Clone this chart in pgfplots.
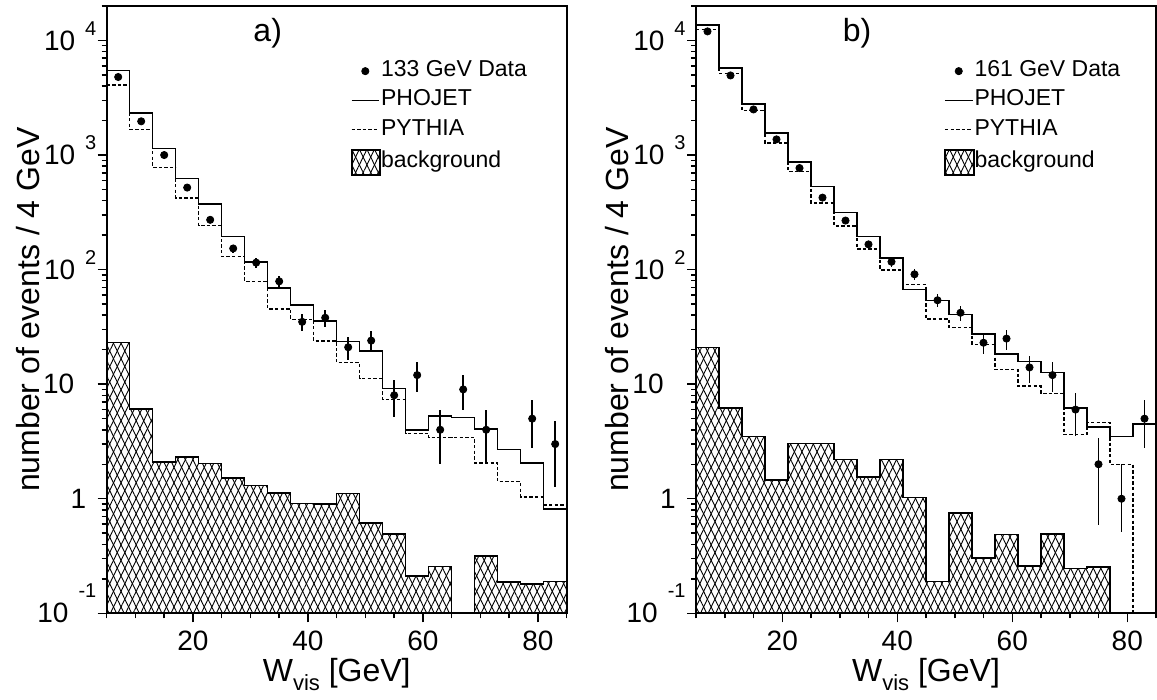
\documentclass[border=0pt]{standalone}
\usepackage{fontspec}
\setmainfont{Liberation Sans}
\usepackage{pgfplots}
\usepackage{pgfplotstable}
\pgfplotsset{compat=1.18}
\usetikzlibrary{patterns.meta}

% ---------------- data: panel a (133 GeV) ----------------
\pgfplotstableread{
x phojet pythia
5 5450 4085
9 2330 1675
13 1143 781
17 627 423
21 372 242
25 195 130
29 117 79
33 68.8 45.5
37 49.3 36.7
41 35.7 23.9
45 23.6 15.4
49 19.5 11.2
53 9.2 7.36
57 4.0 3.72
61 5.26 3.41
65 5.13 3.41
69 4.08 2.06
73 2.70 1.41
77 2.05 1.04
81 0.81 0.88
85 0.81 0.88
}\histA
\pgfplotstableread{
x bg
5 0.001
5 23.0
9 6.1
13 2.10
17 2.31
21 2.04
25 1.52
29 1.30
33 1.12
37 0.906
41 0.90
45 1.11
49 0.614
53 0.49
57 0.212
61 0.256
65 0.001
69 0.317
73 0.188
77 0.181
81 0.19
85 0.19
85 0.001
}\bgA
\pgfplotstableread{
x y ep em
7 4800 69.3 69.3
11 1970 44.4 44.4
15 1000 31.6 31.6
19 520 22.8 22.8
23 272 16.5 16.5
27 153 12.4 12.4
31 115 10.7 10.7
35 79 8.9 8.9
39 35 5.9 5.9
43 38 6.2 6.2
47 21 4.6 4.6
51 24 4.9 4.9
55 8 2.83 2.83
59 12 3.46 3.46
63 4 2 2
67 9 3 3
71 4 2 2
79 5 2.24 2.24
83 3 1.73 1.73
}\dataA

% ---------------- data: panel b (161 GeV) ----------------
\pgfplotstableread{
x phojet pythia
5 13600 12470
9 5780 5130
13 2785 2440
17 1560 1275
21 871 717
25 533 382
29 316 241
33 195 151
37 126.5 99.5
41 67 74
45 54 37.2
49 40.6 31.3
53 27.5 22.3
57 18.4 13.4
61 15.7 9.6
65 12.7 8.3
69 6.2 3.64
73 4.22 4.63
77 3.5 2.0
81 4.48 0.001
85 4.48 0.001
}\histB
\pgfplotstableread{
x bg
5 0.001
5 20.8
9 6.22
13 3.48
17 1.46
21 3.02
25 3.02
29 2.19
33 1.55
37 2.21
41 1.03
45 0.189
49 0.75
53 0.304
57 0.486
61 0.259
65 0.492
69 0.245
73 0.253
77 0.001
81 0.001
85 0.001
}\bgB
\pgfplotstableread{
x y ep em
7 12000 109.5 109.5
11 4950 70.4 70.4
15 2500 50 50
19 1370 37 37
23 770 27.7 27.7
27 425 20.6 20.6
31 268 16.4 16.4
35 166 12.9 12.9
39 117 10.8 10.8
43 91 9.5 9.5
47 54 7.3 7.3
51 42 6.5 6.5
55 23 4.8 4.8
59 25 5 5
63 14 3.74 3.74
67 12 3.46 3.46
71 6 2.45 2.45
75 2 1.41 1.41
79 1 1 0.49
83 5 2.24 2.24
}\dataB

\newcommand{\supf}{\fontsize{10bp}{12bp}\selectfont}
\newcommand{\tickf}{\fontsize{14bp}{16bp}\selectfont}
\newcommand{\labf}{\fontsize{16bp}{19bp}\selectfont}
\newcommand{\legf}{\fontsize{11.5bp}{13bp}\selectfont}
\tikzset{
  hatchA/.style={pattern={Lines[angle=64,distance=3.4bp,line width=0.45bp]}},
  hatchB/.style={pattern={Lines[angle=-64,distance=3.4bp,line width=0.45bp]}},
  hline/.style={black, line width=0.75bp},
  dline/.style={black, line width=0.75bp, dash pattern=on 1.7bp off 1.1bp},
}
\pgfplotsset{
  every axis/.append style={
    scale only axis, width=230bp, height=303.65bp,
    xmin=5, xmax=85, ymin=0.1, ymax=2e4,
    axis on top,
    xtick={20,40,60,80}, xticklabels={20,40,60,80},
    minor xtick={5,10,...,85},
    ytick={0.1,1,10,100,1000,10000},
    minor ytick={0.2,0.3,0.4,0.5,0.6,0.7,0.8,0.9,2,3,4,5,6,7,8,9,20,30,40,50,60,70,80,90,200,300,400,500,600,700,800,900,2000,3000,4000,5000,6000,7000,8000,9000,20000},
    tick align=outside, xtick pos=bottom, ytick pos=left,
    major tick length=4.5bp, minor tick length=2.5bp,
    every tick/.style={black, line width=0.75bp},
    every minor tick/.style={black, line width=0.75bp},
    axis line style={line width=1bp},
    tick label style={font=\tickf, inner sep=0pt},
    yticklabel style={anchor=east, xshift=-0.5bp},
    xticklabel style={anchor=north, yshift=-4bp},
    xlabel style={at={(rel axis cs:0.5,0)}, anchor=base, yshift=-34.2bp, inner sep=0pt, font=\labf},
    ylabel style={at={(rel axis cs:0,0.5)}, anchor=north, yshift=45.3bp, inner sep=0pt, font=\labf},
    legend style={draw=none, fill=none, anchor=north west, inner sep=0pt, outer sep=0pt,
      font=\legf, row sep=4.15bp,
      nodes={inner sep=0pt, text height=8bp, text depth=2.5bp}},
    legend cell align=left,
  },
}

\begin{document}
\begin{tikzpicture}
\useasboundingbox (0bp,0bp) rectangle (578.5bp,350bp);
% ================= panel a =================
\begin{axis}[ymode=log, at={(53.35bp,43.35bp)}, anchor=south west,
  yticklabels={
  {\mbox{10\hspace{5bp}\smash{\raisebox{12.5bp}{\supf -1}}}},
  {\mbox{1\hspace{5bp}}},
  {\mbox{10\hspace{11bp}}},
  {\mbox{10\hspace{5bp}\smash{\raisebox{7.5bp}{\supf 2}}}},
  {\mbox{10\hspace{5bp}\smash{\raisebox{7.5bp}{\supf 3}}}},
  {\mbox{10\hspace{5bp}\smash{\raisebox{7.5bp}{\supf 4}}}}},
  xlabel={W\raisebox{-4.5bp}{\fontsize{11bp}{13bp}\selectfont vis} [GeV]},
  ylabel={number of events / 4 GeV},
  legend style={at={(0.530,0.910)}}]
\addlegendimage{legend image code/.code={\fill (6.9bp,0bp) circle (1.8bp);}}
\addlegendentry{133 GeV Data}
\addlegendimage{legend image code/.code={\draw[hline] (0bp,0bp)--(13.8bp,0bp);}}
\addlegendentry{PHOJET}
\addlegendimage{legend image code/.code={\draw[dline] (0bp,0bp)--(13.8bp,0bp);}}
\addlegendentry{PYTHIA}
\addlegendimage{legend image code/.code={
  \fill[hatchA] (0bp,-6.25bp) rectangle (14.3bp,6.25bp);
  \fill[hatchB] (0bp,-6.25bp) rectangle (14.3bp,6.25bp);
  \draw[line width=1bp] (0bp,-6.25bp) rectangle (14.3bp,6.25bp);}}
\addlegendentry{background}
\addplot[const plot, draw=none, hatchA, forget plot] table[x=x,y=bg] {\bgA} -- cycle;
\addplot[const plot, draw=none, hatchB, forget plot] table[x=x,y=bg] {\bgA} -- cycle;
\addplot[const plot, hline, forget plot] table[x=x,y=bg] {\bgA};
\addplot[const plot, hline, forget plot] table[x=x,y=phojet] {\histA};
\addplot[const plot, dline, forget plot] table[x=x,y=pythia] {\histA};
\addplot[only marks, mark=*, mark size=1.8bp, black, forget plot,
  error bars/.cd, y dir=both, y explicit, error mark=none,
  error bar style={line width=0.75bp}]
  table[x=x,y=y,y error plus=ep,y error minus=em] {\dataA};
\node[font=\labf, inner sep=0pt] at (axis cs:33,1.15e4) {a)};
\end{axis}
% ================= panel b =================
\begin{axis}[ymode=log, at={(348bp,43.35bp)}, anchor=south west,
  yticklabels={
  {\mbox{10\hspace{5bp}\smash{\raisebox{12.5bp}{\supf -1}}}},
  {\mbox{1\hspace{5bp}}},
  {\mbox{10\hspace{11bp}}},
  {\mbox{10\hspace{5bp}\smash{\raisebox{7.5bp}{\supf 2}}}},
  {\mbox{10\hspace{5bp}\smash{\raisebox{7.5bp}{\supf 3}}}},
  {\mbox{10\hspace{5bp}\smash{\raisebox{7.5bp}{\supf 4}}}}},
  xlabel={W\raisebox{-4.5bp}{\fontsize{11bp}{13bp}\selectfont vis} [GeV]},
  ylabel={number of events / 4 GeV},
  legend style={at={(0.539,0.910)}}]
\addlegendimage{legend image code/.code={\fill (6.9bp,0bp) circle (1.8bp);}}
\addlegendentry{161 GeV Data}
\addlegendimage{legend image code/.code={\draw[hline] (0bp,0bp)--(13.8bp,0bp);}}
\addlegendentry{PHOJET}
\addlegendimage{legend image code/.code={\draw[dline] (0bp,0bp)--(13.8bp,0bp);}}
\addlegendentry{PYTHIA}
\addlegendimage{legend image code/.code={
  \fill[hatchA] (0bp,-6.25bp) rectangle (14.3bp,6.25bp);
  \fill[hatchB] (0bp,-6.25bp) rectangle (14.3bp,6.25bp);
  \draw[line width=1bp] (0bp,-6.25bp) rectangle (14.3bp,6.25bp);}}
\addlegendentry{background}
\addplot[const plot, draw=none, hatchA, forget plot] table[x=x,y=bg] {\bgB} -- cycle;
\addplot[const plot, draw=none, hatchB, forget plot] table[x=x,y=bg] {\bgB} -- cycle;
\addplot[const plot, hline, forget plot] table[x=x,y=bg] {\bgB};
\addplot[const plot, hline, forget plot] table[x=x,y=phojet] {\histB};
\addplot[const plot, dline, forget plot] table[x=x,y=pythia] {\histB};
\addplot[only marks, mark=*, mark size=1.8bp, black, forget plot,
  error bars/.cd, y dir=both, y explicit, error mark=none,
  error bar style={line width=0.75bp}]
  table[x=x,y=y,y error plus=ep,y error minus=em] {\dataB};
\node[font=\labf, inner sep=0pt] at (axis cs:33,1.15e4) {b)};
\end{axis}
\end{tikzpicture}
\end{document}
